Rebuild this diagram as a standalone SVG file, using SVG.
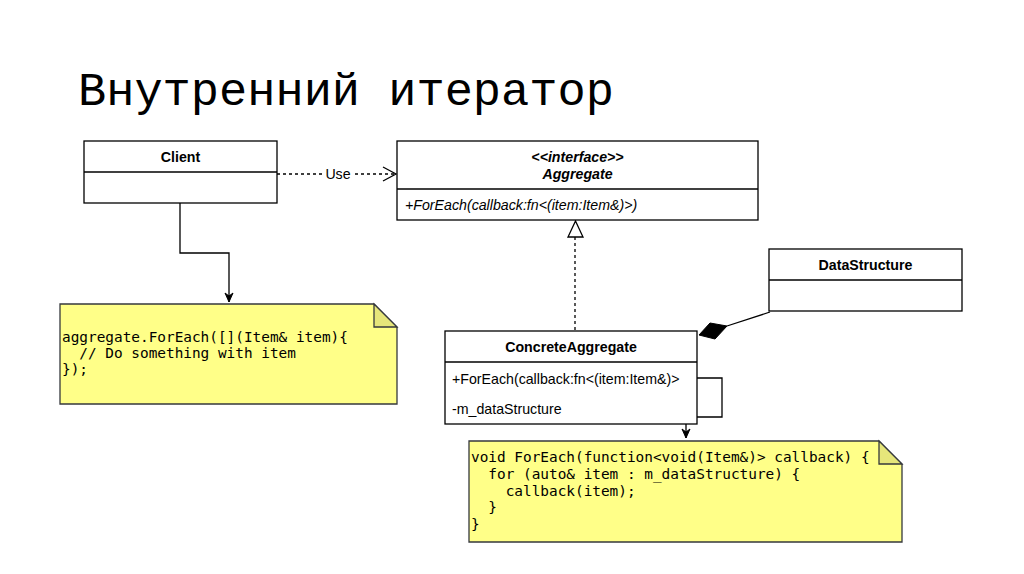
<svg xmlns="http://www.w3.org/2000/svg" width="1024" height="574" viewBox="0 0 1024 574">
<style>
.box{fill:#fff;stroke:#000;stroke-width:1.3}
.ln{fill:none;stroke:#000;stroke-width:1.3}
.dash{fill:none;stroke:#000;stroke-width:1.3;stroke-dasharray:3,3}
.note{fill:#ffff88;stroke:#36393d;stroke-width:1.3}
.fold{fill:#e6e67a;stroke:#36393d;stroke-width:1.3}
.t{font-family:"Liberation Sans",Arial,sans-serif;font-size:14.2px;fill:#000}
.b{font-weight:bold;text-anchor:middle}
.i{font-style:italic}
.code{font-family:"DejaVu Sans Mono",monospace;font-size:14.4px;fill:#000;white-space:pre}
.title{font-family:"Liberation Mono","Courier New",monospace;font-size:47px;fill:#000}
</style>
<defs>
<marker id="filled" markerWidth="12" markerHeight="12" refX="10" refY="5" orient="auto" markerUnits="userSpaceOnUse" viewBox="0 0 12 10">
<path d="M1,1 L10,5 L1,9 L4,5 Z" fill="#000" stroke="#000"/>
</marker>
</defs>
<text class="title" x="78" y="105">Внутренний итератор</text>

<g id="connectors">
<path class="dash" d="M277,174 H395"/>
<path class="ln" d="M383,167 L396,174 L383,181"/>
<rect x="322" y="166" width="32" height="16" fill="#fff"/>
<text class="t" x="338" y="179" text-anchor="middle" font-size="13">Use</text>
<path class="ln" d="M180,203 V253 H229 V302" marker-end="url(#filled)"/>
<path class="dash" d="M575,237 V331"/>
<path class="ln" d="M575.5,221 L583,237 H568 Z" fill="#fff"/>
<path class="ln" d="M770,312 L727,326"/>
<path d="M699,335 L710,323 L727,326 L715,339 Z" fill="#000" stroke="#000"/>
<path class="ln" d="M697,378 H722 V417 H686 V438" marker-end="url(#filled)"/>
</g>

<g id="client">
<rect class="box" x="84" y="141" width="193" height="62"/>
<line class="ln" x1="84" y1="172" x2="277" y2="172"/>
<text class="t b" x="180.5" y="162">Client</text>
</g>

<g id="aggregate">
<rect class="box" x="397" y="141" width="361" height="79"/>
<line class="ln" x1="397" y1="189" x2="758" y2="189"/>
<text class="t b i" x="577.5" y="162">&lt;&lt;interface&gt;&gt;</text>
<text class="t b i" x="577.5" y="179">Aggregate</text>
<text class="t i" x="405" y="210">+ForEach(callback:fn&lt;(item:Item&amp;)&gt;)</text>
</g>

<g id="datastructure">
<rect class="box" x="769" y="249" width="193" height="62"/>
<line class="ln" x1="769" y1="280" x2="962" y2="280"/>
<text class="t b" x="865.5" y="270">DataStructure</text>
</g>

<g id="concreteaggregate">
<rect class="box" x="445" y="331" width="252" height="93"/>
<line class="ln" x1="445" y1="362" x2="697" y2="362"/>
<text class="t b" x="571" y="352">ConcreteAggregate</text>
<text class="t" x="452" y="384">+ForEach(callback:fn&lt;(item:Item&amp;)&gt;</text>
<text class="t" x="452" y="414">-m_dataStructure</text>
</g>

<g id="note1">
<path class="note" d="M60,304 H374 L397,327 V404 H60 Z"/>
<path class="fold" d="M374,304 V327 H397 Z"/>
<text class="code" x="62" y="342">aggregate.ForEach([](Item&amp; item){</text>
<text class="code" x="62" y="358">  // Do something with item</text>
<text class="code" x="62" y="374">});</text>
</g>

<g id="note2">
<path class="note" d="M469,441 H879 L902,464 V542 H469 Z"/>
<path class="fold" d="M879,441 V464 H902 Z"/>
<text class="code" x="471" y="462">void ForEach(function&lt;void(Item&amp;)&gt; callback) {</text>
<text class="code" x="471" y="479">  for (auto&amp; item : m_dataStructure) {</text>
<text class="code" x="471" y="496">    callback(item);</text>
<text class="code" x="471" y="512">  }</text>
<text class="code" x="471" y="529">}</text>
</g>
</svg>
